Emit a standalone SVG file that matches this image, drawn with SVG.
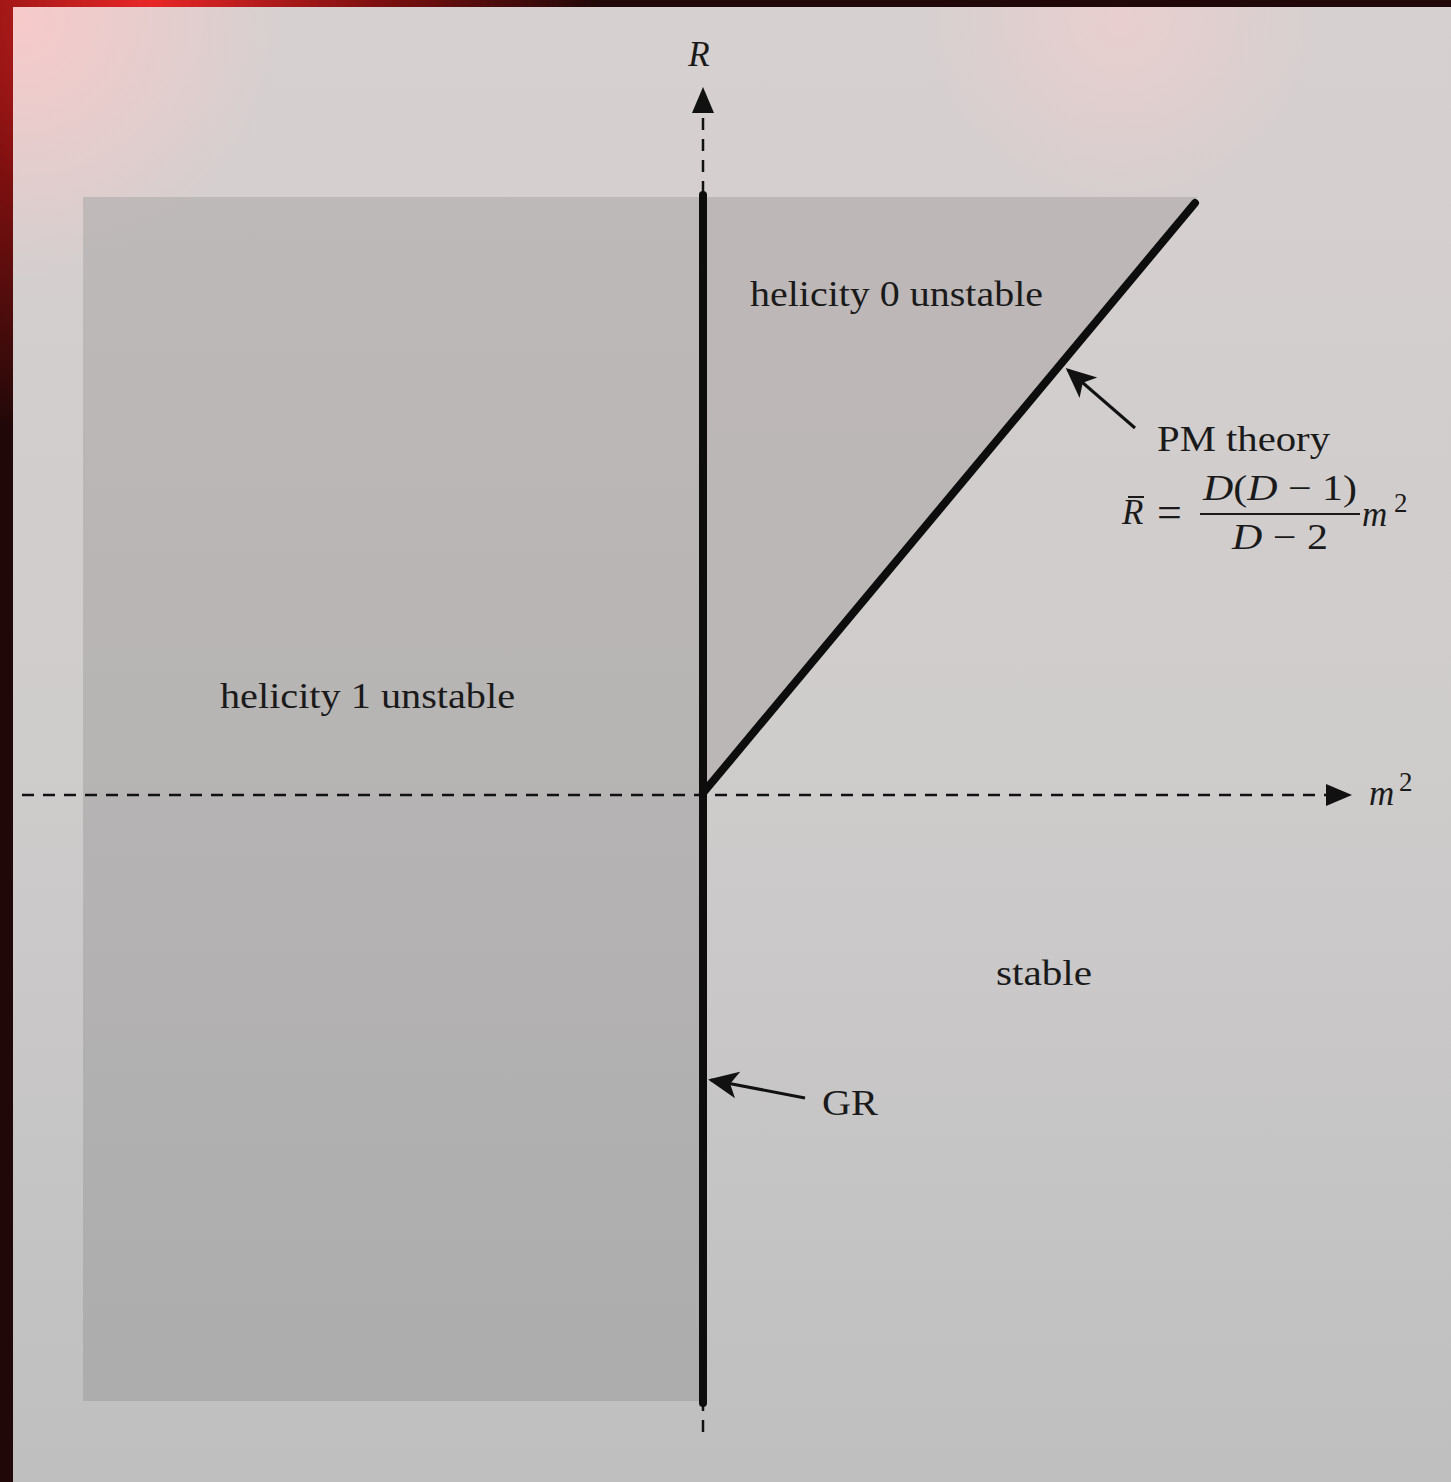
<svg xmlns="http://www.w3.org/2000/svg" width="1451" height="1482" viewBox="0 0 1451 1482">
<defs>
<linearGradient id="page" x1="0" y1="0" x2="0" y2="1">
<stop offset="0" stop-color="#d7d0d0"/>
<stop offset="0.5" stop-color="#cfcccc"/>
<stop offset="1" stop-color="#bfbfbf"/>
</linearGradient>
<linearGradient id="shade" x1="0" y1="0" x2="0" y2="1">
<stop offset="0" stop-color="#bab5b5"/>
<stop offset="1" stop-color="#a9a9a9"/>
</linearGradient>
<radialGradient id="pinkL" cx="20" cy="20" r="260" gradientUnits="userSpaceOnUse">
<stop offset="0" stop-color="#ffc8c8" stop-opacity="0.8"/>
<stop offset="1" stop-color="#ffc8c8" stop-opacity="0"/>
</radialGradient>
<radialGradient id="pinkR" cx="1120" cy="20" r="200" gradientUnits="userSpaceOnUse">
<stop offset="0" stop-color="#ffcccc" stop-opacity="0.45"/>
<stop offset="1" stop-color="#ffcccc" stop-opacity="0"/>
</radialGradient>
<radialGradient id="redTop" cx="150" cy="0" r="450" gradientUnits="userSpaceOnUse">
<stop offset="0" stop-color="#ff2a2a"/>
<stop offset="0.5" stop-color="#8a1010"/>
<stop offset="1" stop-color="#220808"/>
</radialGradient>
<marker id="sa" viewBox="0 0 10 10" refX="9" refY="5" markerWidth="10" markerHeight="10" markerUnits="strokeWidth" orient="auto">
<path d="M0,0.5 L10,5 L0,9.5 L2.5,5 Z" fill="#111"/>
</marker>
</defs>
<style>
text{font-family:"Liberation Serif","DejaVu Serif",serif;fill:#1a1a1a;font-size:35px}
.it{font-style:italic}
.sup{font-size:27px}
.eq{font-size:44px}
.dash{stroke:#111;stroke-width:2.5;stroke-dasharray:12,9;fill:none}
.thick{stroke:#0d0d0d;stroke-width:8;stroke-linecap:round;fill:none}
.ptr{stroke:#111;stroke-width:3;fill:none}
</style>
<rect x="0" y="0" width="1451" height="1482" fill="#1a0a0a"/>
<rect x="0" y="0" width="1451" height="1482" fill="url(#redTop)" opacity="0.9"/>
<rect x="13" y="7" width="1438" height="1475" fill="url(#page)"/>
<rect x="13" y="7" width="1438" height="1475" fill="url(#pinkL)"/>
<rect x="13" y="7" width="1438" height="1475" fill="url(#pinkR)"/>
<g id="region-helicity1">
<rect x="83" y="197" width="620" height="1204" fill="url(#shade)" opacity="0.85"/>
</g>
<g id="region-helicity0">
<polygon points="703,197 1197,197 703,793" fill="#b8b3b3" opacity="0.85"/>
</g>
<g id="connectors">
<line class="dash" x1="22" y1="795" x2="1330" y2="795"/>
<path d="M1326,784 L1352,795 L1326,806 Z" fill="#111"/>
<line class="dash" x1="703" y1="1432" x2="703" y2="116"/>
<path d="M692,113 L703,87 L714,113 Z" fill="#111"/>
<line class="thick" x1="703" y1="195" x2="703" y2="1403"/>
<line class="thick" x1="703" y1="793" x2="1195" y2="203"/>
<line class="ptr" x1="1135" y1="428" x2="1068" y2="370" marker-end="url(#sa)"/>
<line class="ptr" x1="805" y1="1098" x2="711" y2="1080" marker-end="url(#sa)"/>
</g>
<g id="label-R"><text class="it" x="699" y="66" text-anchor="middle">R</text></g>
<g id="label-m2"><text class="it" x="1369" y="805">m</text><text class="sup" x="1399" y="791">2</text></g>
<g id="label-h0"><text x="750" y="306" textLength="293" lengthAdjust="spacingAndGlyphs">helicity 0 unstable</text></g>
<g id="label-h1"><text x="220" y="708" textLength="295" lengthAdjust="spacingAndGlyphs">helicity 1 unstable</text></g>
<g id="label-stable"><text x="996" y="985" textLength="96" lengthAdjust="spacingAndGlyphs">stable</text></g>
<g id="label-GR"><text x="822" y="1115" textLength="56" lengthAdjust="spacingAndGlyphs">GR</text></g>
<g id="label-PM">
<text x="1157" y="451" textLength="173" lengthAdjust="spacingAndGlyphs">PM theory</text>
<text class="it" x="1122" y="524">R</text>
<line x1="1128" y1="497" x2="1144" y2="497" stroke="#1a1a1a" stroke-width="2"/>
<text class="eq" x="1157" y="527">=</text>
<text x="1203" y="500" textLength="154" lengthAdjust="spacingAndGlyphs"><tspan class="it">D</tspan>(<tspan class="it">D</tspan> − 1)</text>
<line x1="1200" y1="514" x2="1360" y2="514" stroke="#1a1a1a" stroke-width="2"/>
<text x="1232" y="549" textLength="96" lengthAdjust="spacingAndGlyphs"><tspan class="it">D</tspan> − 2</text>
<text class="it" x="1362" y="526">m</text>
<text class="sup" x="1394" y="512">2</text>
</g>
</svg>
